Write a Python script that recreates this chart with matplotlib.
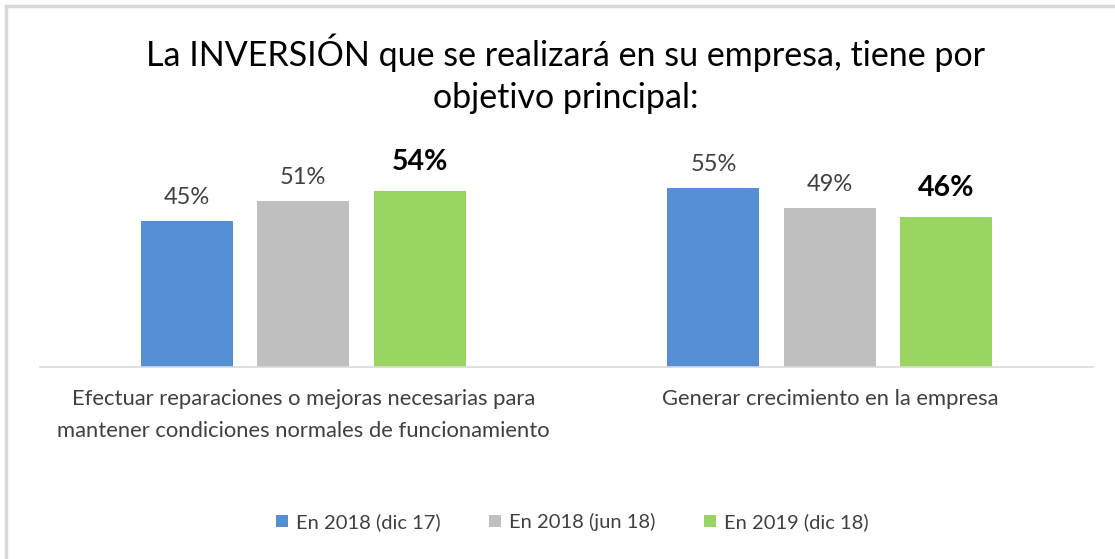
import matplotlib
matplotlib.use("Agg")
import matplotlib.pyplot as plt
from matplotlib.lines import Line2D
from matplotlib.patches import Patch
import numpy as np

categories = ["Efectuar reparaciones o mejoras necesarias para\nmantener condiciones normales de funcionamiento",
              "Generar crecimiento en la empresa"]
series_names = ["En 2018 (dic 17)", "En 2018 (jun 18)", "En 2019 (dic 18)"]
values_dic17 = [45, 55]
values_jun18 = [51, 49]
values_dic18 = [54, 46]
colors = ["#558ed5", "#bfbfbf", "#9bd561"]
title = "La INVERSIÓN que se realizará en su empresa, tiene por\nobjetivo principal:"

plt.rcParams['font.family'] = ['Lato', 'DejaVu Sans']

W, H = 1115, 559
fig = plt.figure(figsize=(W/100, H/100), dpi=100)
fig.patch.set_facecolor("white")

# frame (top and left visible)
fig.add_artist(Line2D([6/W, 1.0], [1-6/H, 1-6/H], color="#d9d9d9", lw=2.5, transform=fig.transFigure))
fig.add_artist(Line2D([6/W, 6/W], [0, 1-6/H], color="#d9d9d9", lw=2.5, transform=fig.transFigure))

ax_left, ax_right = 40, 1093
ax_bottom, ax_top = 367, 139.5
ax = fig.add_axes([ax_left/W, 1-ax_bottom/H, (ax_right-ax_left)/W, (ax_bottom-ax_top)/H])
ax.set_xlim(-0.5, 1.5)
ax.set_ylim(0, 70)

x = np.arange(len(categories))
bw = 0.175
off = 0.221
series = [values_dic17, values_jun18, values_dic18]
for i, (vals, c) in enumerate(zip(series, colors)):
    bars = ax.bar(x + (i-1)*off, vals, width=bw, color=c, label=series_names[i])
    for b, v in zip(bars, vals):
        bold = (i == 2)
        ax.annotate(f"{v}%", (b.get_x()+b.get_width()/2, v), xytext=(0, 13 if not bold else 16),
                    textcoords="offset pixels",
                    ha="center", va="bottom",
                    fontsize=20.5 if bold else 17, fontweight="bold" if bold else "normal",
                    color="#000000" if bold else "#404040")

for s in ["top", "right", "left"]:
    ax.spines[s].set_visible(False)
ax.spines["bottom"].set_color("#d9d9d9")
ax.spines["bottom"].set_linewidth(1.2)
ax.set_yticks([])
ax.set_xticks(x)
ax.set_xticklabels(categories, fontsize=15.8, color="#404040", linespacing=1.72)
ax.tick_params(axis="x", length=0, pad=16)

fig.text(566/W, 1-74/H, title, ha="center", va="center", fontsize=24.5, color="#000000", linespacing=1.4)

handles = [Patch(facecolor=c, edgecolor="none") for c in colors]
fig.legend(handles, series_names, loc="center", bbox_to_anchor=(572/W, 1-522/H), ncol=3, frameon=False,
           fontsize=14.5, handlelength=0.6, handleheight=0.6, handletextpad=0.4, columnspacing=2.4,
           labelcolor="#404040")

fig.savefig("out.png", dpi=100, facecolor="white")
